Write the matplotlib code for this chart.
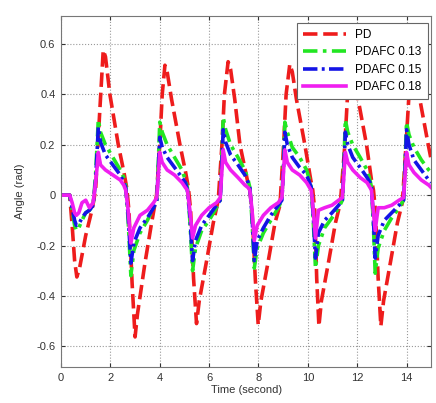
import numpy as np
import matplotlib
matplotlib.use("Agg")
import matplotlib.pyplot as plt

plt.rcParams['font.family'] = ['Liberation Sans', 'DejaVu Sans']

# PD response
pd_t = [0, 0.35, 0.45, 0.55, 0.64, 0.75, 1.0, 1.25, 1.4, 1.55, 1.71,
        1.8, 1.98, 2.32, 2.55, 2.66, 2.75, 2.88, 3.0,
        3.1, 3.4, 3.67, 3.87, 4.0, 4.1, 4.21,
        4.3, 4.48, 4.82, 5.05, 5.16, 5.25, 5.37, 5.49,
        5.6, 5.9, 6.17, 6.37, 6.52, 6.62, 6.77,
        6.87, 7.04, 7.25, 7.55, 7.65, 7.74, 7.87, 7.99,
        8.1, 8.4, 8.67, 8.87, 9.02, 9.12, 9.27,
        9.37, 9.54, 9.88, 10.12, 10.2, 10.28, 10.36, 10.45,
        10.55, 10.85, 11.12, 11.32, 11.5, 11.6, 11.77,
        11.87, 12.04, 12.38, 12.58, 12.66, 12.74, 12.85, 12.96,
        13.07, 13.36, 13.63, 13.83, 13.98, 14.1, 14.27,
        14.37, 14.54, 14.88, 15.0]
pd_y = [0, 0, -0.12, -0.26, -0.325, -0.29, -0.16, -0.06, 0.02, 0.3, 0.576,
        0.55, 0.40, 0.20, 0.09, 0.03, -0.06, -0.35, -0.563,
        -0.47, -0.27, -0.11, 0.0, 0.2, 0.4, 0.516,
        0.49, 0.38, 0.20, 0.09, 0.03, -0.06, -0.33, -0.51,
        -0.42, -0.26, -0.11, -0.02, 0.2, 0.4, 0.53,
        0.50, 0.38, 0.20, 0.06, 0.02, -0.06, -0.33, -0.515,
        -0.42, -0.26, -0.11, -0.04, 0.2, 0.4, 0.52,
        0.49, 0.38, 0.20, 0.06, 0.02, -0.06, -0.33, -0.52,
        -0.42, -0.26, -0.11, -0.03, 0.2, 0.38, 0.52,
        0.49, 0.38, 0.20, 0.06, 0.02, -0.06, -0.33, -0.52,
        -0.42, -0.26, -0.11, -0.03, 0.2, 0.4, 0.52,
        0.49, 0.38, 0.20, 0.14]

# PDAFC responses share the same time grid
af_t = [0, 0.35, 0.45, 0.55, 0.62, 0.72, 0.85, 1.0, 1.15, 1.3, 1.4, 1.47, 1.51,
        1.6, 1.8, 2.1, 2.4, 2.54, 2.62, 2.72, 2.83,
        2.95, 3.2, 3.5, 3.75, 3.88, 3.95, 4.0,
        4.1, 4.3, 4.6, 4.9, 5.04, 5.12, 5.22, 5.33,
        5.45, 5.7, 6.0, 6.3, 6.45, 6.52, 6.57,
        6.67, 6.87, 7.17, 7.45, 7.58, 7.65, 7.74, 7.83,
        7.95, 8.2, 8.5, 8.8, 8.95, 9.02, 9.07,
        9.17, 9.37, 9.67, 9.95, 10.07, 10.14, 10.22, 10.31,
        10.43, 10.68, 10.98, 11.25, 11.4, 11.47, 11.52,
        11.62, 11.82, 12.12, 12.4, 12.52, 12.58, 12.65, 12.73,
        12.85, 13.1, 13.4, 13.7, 13.88, 13.95, 14.0,
        14.1, 14.3, 14.6, 14.9, 15.0]
af13_y = [0, 0, -0.06, -0.12, -0.14, -0.13, -0.10, -0.07, -0.06, -0.04, 0.08, 0.22, 0.30,
          0.25, 0.20, 0.15, 0.10, 0.07, 0.04, -0.10, -0.32,
          -0.22, -0.15, -0.10, -0.05, -0.02, 0.15, 0.29,
          0.25, 0.20, 0.15, 0.10, 0.06, 0.03, -0.10, -0.30,
          -0.21, -0.14, -0.10, -0.05, -0.02, 0.16, 0.31,
          0.26, 0.20, 0.15, 0.10, 0.06, 0.03, -0.10, -0.29,
          -0.21, -0.15, -0.10, -0.05, -0.02, 0.15, 0.29,
          0.25, 0.19, 0.15, 0.10, 0.06, 0.03, -0.10, -0.29,
          -0.20, -0.13, -0.09, -0.05, -0.02, 0.15, 0.30,
          0.25, 0.20, 0.15, 0.10, 0.06, 0.03, -0.10, -0.31,
          -0.21, -0.14, -0.09, -0.05, -0.02, 0.15, 0.29,
          0.24, 0.19, 0.14, 0.10, 0.09]
af15_y = [0, 0, -0.05, -0.10, -0.12, -0.115, -0.09, -0.07, -0.06, -0.04, 0.06, 0.19, 0.27,
          0.21, 0.16, 0.12, 0.08, 0.05, 0.03, -0.08, -0.27,
          -0.19, -0.13, -0.09, -0.05, -0.02, 0.12, 0.23,
          0.19, 0.15, 0.11, 0.07, 0.05, 0.02, -0.08, -0.26,
          -0.18, -0.12, -0.08, -0.04, -0.02, 0.13, 0.26,
          0.21, 0.16, 0.12, 0.08, 0.05, 0.03, -0.08, -0.26,
          -0.18, -0.13, -0.08, -0.04, -0.02, 0.12, 0.25,
          0.20, 0.15, 0.11, 0.08, 0.05, 0.03, -0.08, -0.25,
          -0.15, -0.10, -0.07, -0.04, -0.02, 0.12, 0.25,
          0.20, 0.15, 0.11, 0.07, 0.05, 0.03, -0.08, -0.25,
          -0.16, -0.10, -0.07, -0.04, -0.02, 0.12, 0.26,
          0.20, 0.14, 0.10, 0.06, 0.05]
af18_y = [0, 0, -0.03, -0.07, -0.08, -0.07, -0.03, -0.02, -0.05, -0.03, 0.05, 0.12, 0.17,
          0.12, 0.10, 0.08, 0.06, 0.04, 0.02, -0.06, -0.19,
          -0.13, -0.08, -0.06, -0.03, -0.01, 0.09, 0.17,
          0.13, 0.10, 0.08, 0.05, 0.03, 0.02, -0.06, -0.17,
          -0.12, -0.08, -0.05, -0.03, -0.01, 0.10, 0.18,
          0.13, 0.10, 0.07, 0.04, 0.03, 0.02, -0.06, -0.18,
          -0.12, -0.08, -0.05, -0.03, -0.01, 0.10, 0.18,
          0.13, 0.10, 0.08, 0.05, 0.03, 0.02, -0.06, -0.17,
          -0.06, -0.05, -0.04, -0.02, -0.01, 0.09, 0.17,
          0.13, 0.10, 0.07, 0.05, 0.03, 0.02, -0.06, -0.14,
          -0.05, -0.05, -0.04, -0.02, -0.01, 0.09, 0.17,
          0.12, 0.09, 0.06, 0.04, 0.03]

xticks = [0, 2, 4, 6, 8, 10, 12, 14]
yticks = [-0.6, -0.4, -0.2, 0, 0.2, 0.4, 0.6]
ytick_labels = ['-0.6', '-0.4', '-0.2', '0', '0.2', '0.4', '0.6']

fig = plt.figure(figsize=(4.36, 4.03), dpi=100)
ax = fig.add_axes([0.140, 0.089, 0.849, 0.871])

lw = 2.6
ax.plot(pd_t, pd_y, color='#ee1c1c', lw=lw, dashes=(4, 1.6), label='PD')
ax.plot(af_t, af13_y, color='#22e622', lw=lw, dashes=(4, 1.5, 1, 1.5), label='PDAFC 0.13')
ax.plot(af_t, af15_y, color='#1414e6', lw=lw, dashes=(4, 1.2, 0.8, 1.2), label='PDAFC 0.15')
ax.plot(af_t, af18_y, color='#f01ef0', lw=lw, label='PDAFC 0.18')

ax.set_xlim(0, 15)
ax.set_ylim(-0.683, 0.711)
ax.set_xticks(xticks)
ax.set_yticks(yticks)
ax.set_yticklabels(ytick_labels)
ax.tick_params(direction='in', top=True, right=True, labelsize=8, colors='#333333',
               length=3, pad=4)
ax.grid(True, linestyle=':', color='#999999', lw=0.8)
for s in ax.spines.values():
    s.set_color('#777777')
    s.set_linewidth(0.8)

ax.set_xlabel('Time (second)', fontsize=8, color='#333333', labelpad=2)
ax.set_ylabel('Angle (rad)', fontsize=8, color='#333333', labelpad=8)

leg = ax.legend(loc='upper right', bbox_to_anchor=(0.99, 0.98), borderaxespad=0,
                fontsize=8.5, handlelength=3.6, fancybox=False, framealpha=1,
                edgecolor='#666666', labelspacing=0.45, borderpad=0.5)
leg.get_frame().set_linewidth(0.8)

fig.savefig('out.png', dpi=100)
